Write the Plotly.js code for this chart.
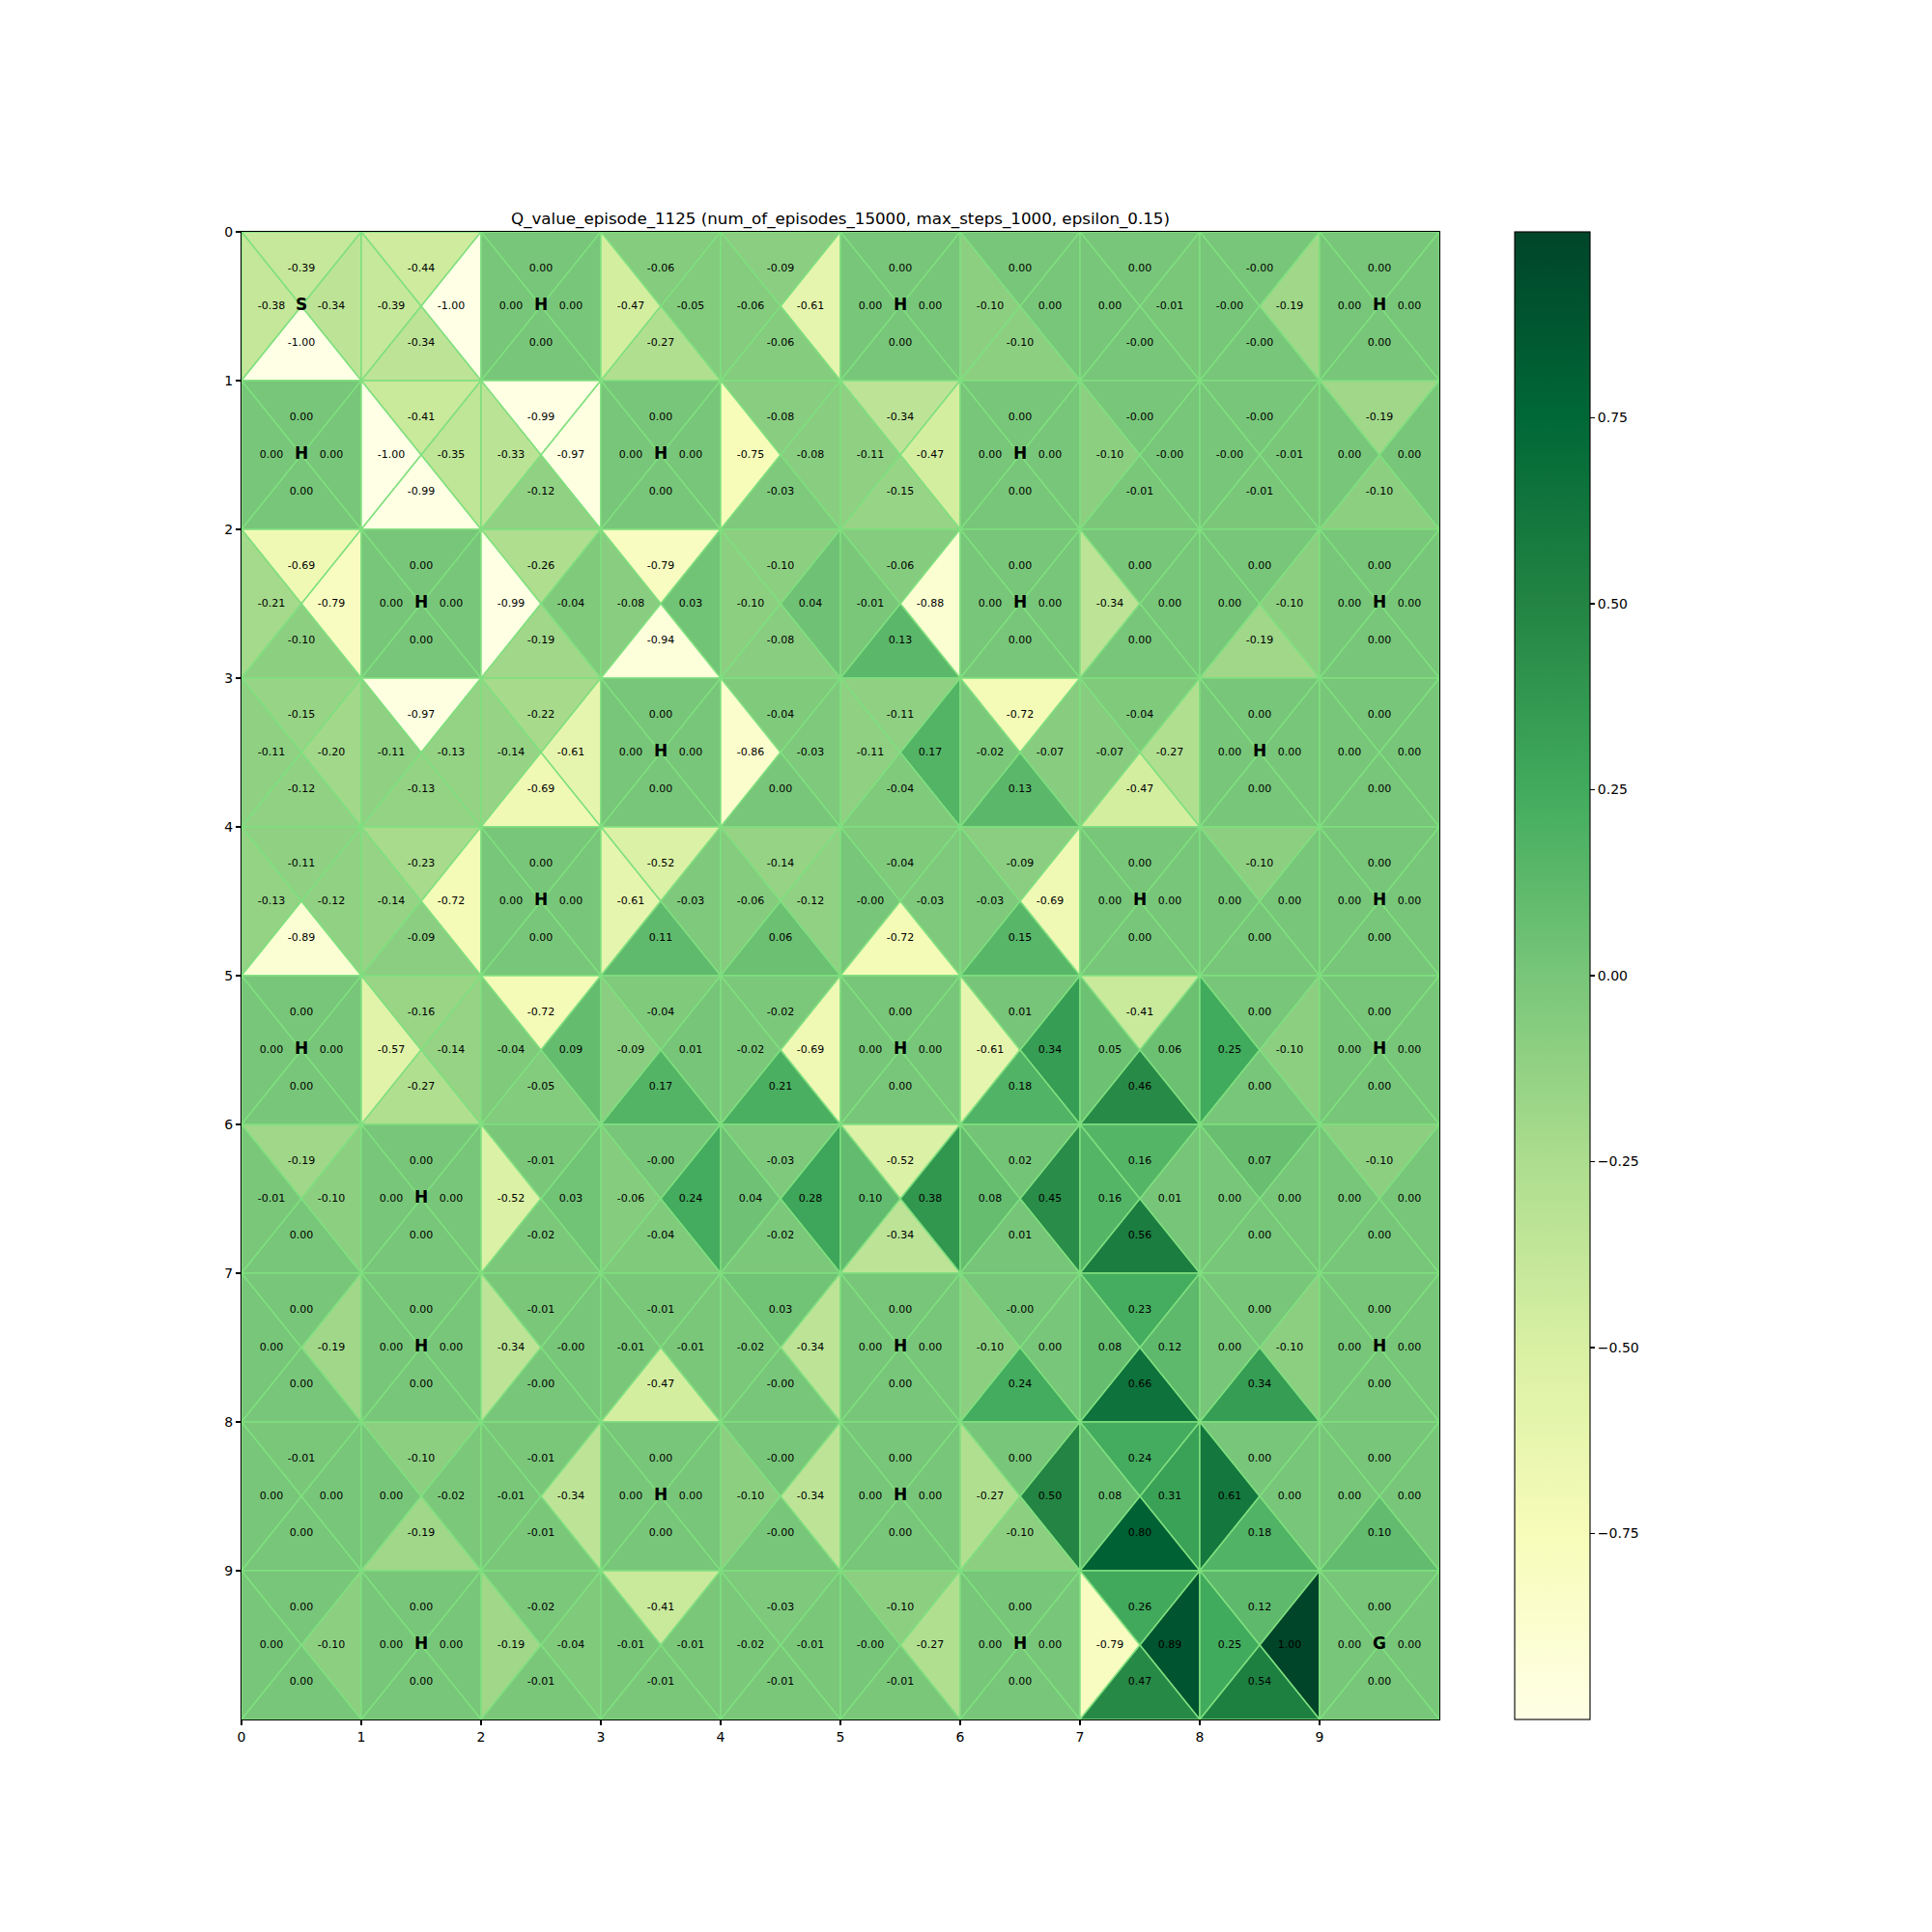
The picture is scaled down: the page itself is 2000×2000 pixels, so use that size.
<!DOCTYPE html>
<html>
<head>
<meta charset="utf-8">
<script src="https://cdn.plot.ly/plotly-3.0.1.min.js"></script>
<style>html,body{margin:0;padding:0;background:#fff;}</style>
</head>
<body>
<div id="chart" style="width:2000px;height:2000px;"></div>
<script>
// Tile map: S start, H hole, G goal, F frozen (no label)
const tiles = [
  "SFHFFHFFFH",
  "HFFHFFHFFF",
  "FHFFFFHFFH",
  "FFFHFFFFHF",
  "FFHFFFFHFH",
  "HFFFFHFFFH",
  "FHFFFFFFFF",
  "FHFFFHFFFH",
  "FFFHFHFFFF",
  "FHFFFFHFFG"
];
// Q values per direction (rows top to bottom, columns left to right); -0.001 shown as "-0.00"
const qUp = [
  [-0.39,-0.44,0,-0.06,-0.09,0,0,0,-0.001,0],
  [0,-0.41,-0.99,0,-0.08,-0.34,0,-0.001,-0.001,-0.19],
  [-0.69,0,-0.26,-0.79,-0.10,-0.06,0,0,0,0],
  [-0.15,-0.97,-0.22,0,-0.04,-0.11,-0.72,-0.04,0,0],
  [-0.11,-0.23,0,-0.52,-0.14,-0.04,-0.09,0,-0.10,0],
  [0,-0.16,-0.72,-0.04,-0.02,0,0.01,-0.41,0,0],
  [-0.19,0,-0.01,-0.001,-0.03,-0.52,0.02,0.16,0.07,-0.10],
  [0,0,-0.01,-0.01,0.03,0,-0.001,0.23,0,0],
  [-0.01,-0.10,-0.01,0,-0.001,0,0,0.24,0,0],
  [0,0,-0.02,-0.41,-0.03,-0.10,0,0.26,0.12,0]
];
const qLeft = [
  [-0.38,-0.39,0,-0.47,-0.06,0,-0.10,0,-0.001,0],
  [0,-1.00,-0.33,0,-0.75,-0.11,0,-0.10,-0.001,0],
  [-0.21,0,-0.99,-0.08,-0.10,-0.01,0,-0.34,0,0],
  [-0.11,-0.11,-0.14,0,-0.86,-0.11,-0.02,-0.07,0,0],
  [-0.13,-0.14,0,-0.61,-0.06,-0.001,-0.03,0,0,0],
  [0,-0.57,-0.04,-0.09,-0.02,0,-0.61,0.05,0.25,0],
  [-0.01,0,-0.52,-0.06,0.04,0.10,0.08,0.16,0,0],
  [0,0,-0.34,-0.01,-0.02,0,-0.10,0.08,0,0],
  [0,0,-0.01,0,-0.10,0,-0.27,0.08,0.61,0],
  [0,0,-0.19,-0.01,-0.02,-0.001,0,-0.79,0.25,0]
];
const qRight = [
  [-0.34,-1.00,0,-0.05,-0.61,0,0,-0.01,-0.19,0],
  [0,-0.35,-0.97,0,-0.08,-0.47,0,-0.001,-0.01,0],
  [-0.79,0,-0.04,0.03,0.04,-0.88,0,0,-0.10,0],
  [-0.20,-0.13,-0.61,0,-0.03,0.17,-0.07,-0.27,0,0],
  [-0.12,-0.72,0,-0.03,-0.12,-0.03,-0.69,0,0,0],
  [0,-0.14,0.09,0.01,-0.69,0,0.34,0.06,-0.10,0],
  [-0.10,0,0.03,0.24,0.28,0.38,0.45,0.01,0,0],
  [-0.19,0,-0.001,-0.01,-0.34,0,0,0.12,-0.10,0],
  [0,-0.02,-0.34,0,-0.34,0,0.50,0.31,0,0],
  [-0.10,0,-0.04,-0.01,-0.01,-0.27,0,0.89,1.00,0]
];
const qDown = [
  [-1.00,-0.34,0,-0.27,-0.06,0,-0.10,-0.001,-0.001,0],
  [0,-0.99,-0.12,0,-0.03,-0.15,0,-0.01,-0.01,-0.10],
  [-0.10,0,-0.19,-0.94,-0.08,0.13,0,0,-0.19,0],
  [-0.12,-0.13,-0.69,0,0,-0.04,0.13,-0.47,0,0],
  [-0.89,-0.09,0,0.11,0.06,-0.72,0.15,0,0,0],
  [0,-0.27,-0.05,0.17,0.21,0,0.18,0.46,0,0],
  [0,0,-0.02,-0.04,-0.02,-0.34,0.01,0.56,0,0],
  [0,0,-0.001,-0.47,-0.001,0,0.24,0.66,0.34,0],
  [0,-0.19,-0.01,0,-0.001,0,-0.10,0.80,0.18,0.10],
  [0,0,-0.01,-0.01,-0.01,-0.01,0,0.47,0.54,0]
];
const tickVals = [0,1,2,3,4,5,6,7,8,9];
const cbTickVals = [-0.75,-0.5,-0.25,0,0.25,0.5,0.75];
const cbTickText = ["\u22120.75","\u22120.50","\u22120.25","0.00","0.25","0.50","0.75"];
const title = "Q_value_episode_1125 (num_of_episodes_15000, max_steps_1000, epsilon_0.15)";

// YlGn colormap (matplotlib / ColorBrewer)
const ylgn = ["#ffffe5","#f7fcb9","#d9f0a3","#addd8e","#78c679","#41ab5d","#238443","#006837","#004529"];
const vmin = -1, vmax = 1;
const colorscale = ylgn.map((c,i)=>[i/(ylgn.length-1), c]);
function hex2rgb(h){return [parseInt(h.slice(1,3),16),parseInt(h.slice(3,5),16),parseInt(h.slice(5,7),16)];}
function cmap(v){
  let t = (v - vmin)/(vmax - vmin);
  t = Math.max(0, Math.min(1, t));
  const n = ylgn.length - 1;
  let i = Math.min(n-1, Math.floor(t*n));
  const f = t*n - i;
  const a = hex2rgb(ylgn[i]), b = hex2rgb(ylgn[i+1]);
  const c = a.map((x,k)=>Math.round(x + (b[k]-x)*f));
  return `rgb(${c[0]},${c[1]},${c[2]})`;
}

const edge = "#7fe07f";
const traces = [];
const tx = [], ty = [], tt = [];
const lx = [], ly = [], lt = [];
const nRows = qUp.length, nCols = qUp[0].length;
for (let r = 0; r < nRows; r++) {
  for (let c = 0; c < nCols; c++) {
    const cx = c + 0.5, cy = r + 0.5;
    const tris = [
      {v: qUp[r][c],    xs:[c, c+1, cx, c],   ys:[r, r, cy, r],        px: cx,       py: r + 0.25},
      {v: qLeft[r][c],  xs:[c, cx, c, c],     ys:[r, cy, r+1, r],      px: c + 0.25, py: cy},
      {v: qRight[r][c], xs:[c+1, c+1, cx, c+1], ys:[r, r+1, cy, r],    px: c + 0.75, py: cy},
      {v: qDown[r][c],  xs:[c, c+1, cx, c],   ys:[r+1, r+1, cy, r+1],  px: cx,       py: r + 0.75}
    ];
    tris.forEach(t => {
      traces.push({
        type: "scatter", mode: "lines", x: t.xs, y: t.ys,
        fill: "toself", fillcolor: cmap(t.v),
        line: {color: edge, width: 1.5},
        hoverinfo: "skip", showlegend: false
      });
      tx.push(t.px); ty.push(t.py); tt.push(t.v.toFixed(2));
    });
    const ch = tiles[r][c];
    if (ch !== "F") { lx.push(cx); ly.push(cy); lt.push(ch); }
  }
}
traces.push({
  type: "scatter", mode: "text", x: tx, y: ty, text: tt,
  textposition: "middle center",
  textfont: {family: "DejaVu Sans", size: 11, color: "#000"},
  hoverinfo: "skip", showlegend: false
});
traces.push({
  type: "scatter", mode: "text", x: lx, y: ly, text: lt,
  textposition: "middle center",
  textfont: {family: "DejaVu Sans", size: 17, color: "#000", weight: "bold"},
  hoverinfo: "skip", showlegend: false
});
// colorbar carrier
traces.push({
  type: "scatter", mode: "markers", x: [0.5, 0.5], y: [0.5, 0.5],
  marker: {size: 0, opacity: 0, color: [vmin, vmax], cmin: vmin, cmax: vmax,
    colorscale: colorscale, showscale: true,
    colorbar: {
      x: (1568-250)/1240, xanchor: "left", xpad: 0,
      y: 0.5, yanchor: "middle", ypad: 0,
      len: 1, lenmode: "fraction",
      thickness: 78, thicknessmode: "pixels",
      outlinecolor: "#000", outlinewidth: 1.1,
      tickmode: "array", tickvals: cbTickVals, ticktext: cbTickText,
      ticks: "outside", ticklen: 5, tickwidth: 1.1, tickcolor: "#000",
      tickfont: {family: "DejaVu Sans", size: 14, color: "#000"}
    }},
  hoverinfo: "skip", showlegend: false
});

const axisCommon = {
  tickmode: "array", tickvals: tickVals, ticktext: tickVals.map(String),
  ticks: "outside", ticklen: 5, tickwidth: 1.1, tickcolor: "#000",
  showline: true, linecolor: "#000", linewidth: 1.1, mirror: true,
  showgrid: false, zeroline: false,
  tickfont: {family: "DejaVu Sans", size: 14, color: "#000"}
};
const layout = {
  width: 2000, height: 2000,
  margin: {l: 250, r: 510, t: 240, b: 220, pad: 0},
  paper_bgcolor: "#fff", plot_bgcolor: "#fff",
  title: {text: title, x: 0.5, xref: "paper", xanchor: "center",
    y: 1 - 226/2000, yref: "container", yanchor: "middle",
    font: {family: "DejaVu Sans", size: 16.7, color: "#000"}},
  xaxis: Object.assign({range: [0, 10]}, axisCommon),
  yaxis: Object.assign({range: [10, 0]}, axisCommon),
  showlegend: false
};
Plotly.newPlot("chart", traces, layout, {staticPlot: true, displayModeBar: false});
</script>
</body>
</html>
